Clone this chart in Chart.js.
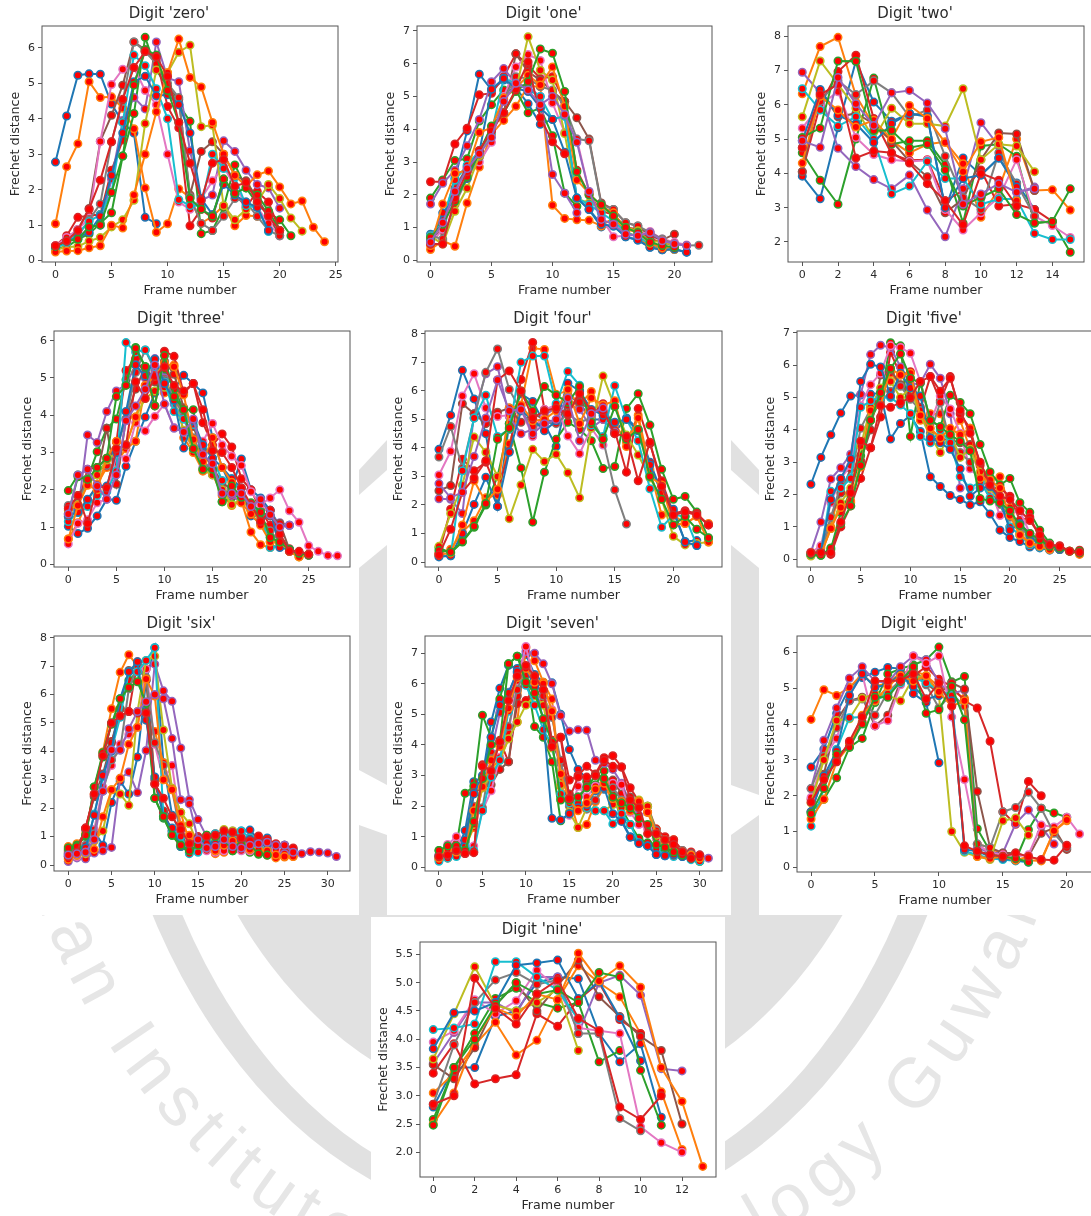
<!DOCTYPE html>
<html>
<head>
<meta charset="utf-8">
<title>Frechet distance per digit</title>
<script src="https://cdn.jsdelivr.net/npm/chart.js@4"></script>
<style>
  html, body { margin: 0; padding: 0; background: #fff; overflow: hidden; }
  #page { position: relative; width: 1091px; height: 1216px; overflow: hidden; }
  #mark { position: absolute; left: 0; top: 0; }
  canvas { position: absolute; filter: blur(0.4px); }
</style>
</head>
<body>
<div id="page">
  <svg id="mark" width="1091" height="1216" viewBox="0 0 1091 1216">
    <defs>
      <path id="markPath" d="M -15 610 A 555 690 0 0 0 1095 610" />
    </defs>
    <ellipse cx="540" cy="610" rx="446" ry="616" fill="#e1e1e1" />
    <ellipse cx="540" cy="610" rx="417" ry="593" fill="#fff" />
    <ellipse cx="540" cy="610" rx="381" ry="502" fill="#e1e1e1" />
    <text font-family="Liberation Sans" font-size="70" fill="#e6e6e6" letter-spacing="10" text-anchor="middle">
      <textPath href="#markPath" startOffset="50%">Indian Institute of Technology Guwahati</textPath>
    </text>
    <rect x="0" y="0" width="1091" height="915" fill="#fff" />
    <rect x="371" y="917" width="354" height="299" fill="#fff" />
    <g fill="#e1e1e1">
      <polygon points="359,470 387,440 387,470 359,495" />
      <polygon points="359,568 387,545 387,785 359,770" />
      <polygon points="359,825 387,835 387,915 359,915" />
      <polygon points="731,440 759,470 759,495 731,470" />
      <polygon points="731,545 759,568 759,795 731,785" />
      <polygon points="731,835 759,815 759,915 731,915" />
    </g>
  </svg>
</div>
<script>
"use strict";

const LINE_COLORS = ["#1f77b4", "#ff7f0e", "#2ca02c", "#d62728", "#9467bd", "#8c564b", "#e377c2", "#7f7f7f", "#bcbd22", "#17becf"];

const zeroSeries = [
  [2.78,4.08,5.23,5.27,5.26,4.42,3.9,3.6,1.22,1.04],
  [1.04,2.65,3.3,5.05,4.6,4.62,4.3,3.72,2.05,0.8,1.04,2.02,1.78,1.05,1.25,1.55,0.98,1.27,1.25],
  [0.35,0.38,0.6,0.75,1.05,1.35,2.95,4.15,6.3,5.38,4.9,4.4,3.93,0.76,0.85,1.5,2.7,2.05,1.6,1.35,1.15,0.7],
  [0.42,0.7,1.22,1.27,1.3,2.55,3.4,5.0,5.9,5.7,4.35,3.75,0.98,1.45,1.2,2.3,1.9,1.5,1.95,1.65,0.85],
  [0.38,0.6,0.62,0.95,1.0,2.3,3.95,4.6,4.28,6.17,5.15,5.05,3.1,1.7,1.85,3.38,3.08,2.55,2.15,2.05,1.48],
  [0.4,0.55,0.88,1.47,3.37,4.1,4.95,6.17,5.95,5.6,4.9,4.55,1.85,3.08,3.35,3.0,2.4,2.25,1.75,1.25,0.7],
  [0.42,0.65,0.88,1.2,3.36,4.97,5.4,5.45,4.8,4.4,3.0,1.65,1.45,1.75,2.25,2.65,2.1,1.6,1.5,1.05,0.7],
  [0.38,0.5,0.7,1.15,1.6,3.35,4.5,6.17,5.9,5.55,5.0,4.6,1.8,1.05,0.85,1.25,1.75,1.65,1.25,0.85,0.7],
  [0.3,0.38,0.4,0.55,0.65,0.95,1.15,1.7,3.87,5.38,5.3,5.88,6.08,3.78,3.82,1.55,1.15,1.45,1.65,2.15,1.75,1.2,0.83],
  [0.35,0.5,0.75,1.1,1.3,1.92,3.9,5.8,5.5,4.85,4.0,1.72,1.55,1.55,3.0,2.6,2.35,1.55,1.5,0.82],
  [0.4,0.55,0.65,0.8,1.25,2.4,3.6,5.05,5.2,4.65,4.68,4.4,3.6,1.75,1.3,2.15,1.85,1.65,1.5,0.85],
  [0.24,0.27,0.28,0.36,0.42,1.0,0.92,1.85,3.0,4.2,5.3,6.25,5.17,4.9,3.9,3.0,2.4,2.1,2.42,2.53,2.08,1.6,1.68,0.94,0.53],
  [0.4,0.55,0.6,0.95,1.0,1.92,2.95,4.95,5.95,5.8,4.8,3.9,1.75,1.45,1.25,2.3,1.9,2.05,1.85,1.4,0.85],
  [0.42,0.55,0.85,1.45,2.27,3.35,4.55,5.45,5.9,5.75,5.2,3.9,2.75,1.7,2.75,2.85,2.1,2.2,1.65,1.25,0.85]
];

const oneSeries = [
  [0.8,1.1,2.5,3.95,5.68,5.2,5.5,5.25,4.78,4.15,4.3,4.4,1.9,1.55,1.02,1.05,0.72,0.62,0.4,0.32,0.33,0.25],
  [0.33,0.6,0.43,1.75,2.85,3.85,4.27,4.7,5.32,5.3,1.68,1.28,1.24,1.22,1.05,1.3,0.88,0.7,0.42,0.33,0.33],
  [1.9,2.45,3.05,3.1,4.25,4.75,5.2,5.2,4.5,4.65,3.8,2.05,1.65],
  [2.4,2.4,3.55,4.03,5.05,5.1,5.6,6.3,5.95,5.55,5.6,4.85,2.75,2.0,1.5,1.4,1.0,0.95,0.65,0.55,0.45],
  [1.72,2.35,2.75,3.5,4.3,5.45,5.85,5.4,5.3,5.0,2.62,2.05,1.45],
  [0.7,0.9,2.2,2.85,3.3,4.05,4.5,6.3,5.75,5.5,5.15,4.85,4.35,3.7,1.75,1.55,1.15,1.05,0.75,0.62,0.8],
  [0.5,0.95,2.0,2.7,3.0,3.6,5.0,5.9,6.28,6.1,4.8,3.9,3.7,2.1,1.3,0.72,0.75,0.78,0.88,0.65,0.55,0.47],
  [0.75,0.65,1.7,2.5,3.15,4.05,4.9,5.6,5.55,5.3,5.2,4.7,3.7,3.65,1.7,1.55,1.15,1.05,0.85,0.65,0.5,0.45,0.46],
  [0.73,0.5,1.5,2.2,3.2,4.0,4.5,5.2,6.82,5.8,5.5,3.87,1.88,1.75,1.6,1.4,1.0,0.9,0.55,0.6,0.42],
  [0.75,1.25,2.45,2.9,3.35,3.9,5.55,5.4,5.2,5.0,4.3,4.4,1.9,1.7,1.45,1.2,0.85,0.72,0.5,0.38,0.35],
  [0.6,1.45,1.85,2.5,3.3,5.22,5.55,5.25,5.15,4.65,4.3,3.3,1.9,1.55,1.1,1.05,0.72,0.62,0.4,0.32,0.35,0.25],
  [0.45,1.72,2.65,2.75,3.9,4.05,4.95,5.25,5.65,5.35,5.9,4.7,2.45,2.05,1.65,1.45,0.95,0.85,0.52,0.38,0.42],
  [0.7,1.1,1.8,2.55,3.3,4.1,4.5,5.15,5.45,6.45,6.32,5.15,2.7,2.0,1.7,1.35,1.0,0.85,0.55,0.45,0.4],
  [0.5,0.5,1.9,2.7,3.35,3.95,4.5,5.22,6.05,4.35,3.62,3.25],
  [0.55,1.15,2.1,2.8,3.25,3.75,4.85,5.4,5.2,4.75,5.0,4.45,3.6,2.1,1.25,1.1,0.8,0.75,0.85,0.6,0.5,0.45]
];

const twoSeries = [
  [3.92,3.26,5.33,7.28,6.08,5.52,5.75,5.68,2.95,4.45,3.95,4.45,3.72,2.95],
  [6.32,7.7,7.97,6.27,5.4,4.95,4.6,4.85,4.92,4.28,2.72,3.55,5.0,3.5,3.52,2.93],
  [4.6,3.8,3.1,5.0,6.78,4.85,4.95,4.95,4.25,2.55,4.8,4.85,4.5,2.55,2.6,1.7],
  [4.05,6.0,6.97,7.45,5.6,4.57,4.38,4.4,3.2,3.5,4.1,3.05,3.1,2.95,2.6],
  [6.95,6.35,4.73,4.2,3.82,3.55,3.95,2.93,2.15,3.55,5.48,4.8,3.45,3.6],
  [4.05,6.42,5.65,5.75,5.45,4.95,4.35,3.9,2.85,3.25,4.4,5.18,5.15,3.5],
  [5.32,6.0,6.38,5.05,4.55,4.4,4.35,4.38,2.95,2.35,2.85,3.3,4.4,2.75,2.48,2.13],
  [4.75,6.1,6.7,6.3,6.7,6.35,5.65,5.85,4.5,3.3,2.95,4.6,3.7,2.75],
  [5.65,7.28,6.6,5.9,5.0,5.9,5.45,5.45,5.38,6.47,4.4,4.85,4.8,4.05],
  [6.47,5.85,5.38,5.65,5.0,3.4,3.63,4.35,3.85,3.85,3.1,3.25,3.25,2.25,2.07,2.07],
  [4.95,6.45,5.7,5.45,4.9,5.45,5.75,5.65,3.0,3.85,3.95,4.45,3.6],
  [4.3,6.25,5.85,5.35,5.55,5.0,5.98,5.6,4.9,4.05,4.92,5.05,3.2],
  [5.05,5.32,7.28,7.27,5.25,5.25,4.75,4.85,4.1,3.05,3.3,3.55,2.8,2.55,2.6,3.55],
  [4.75,6.3,6.6,4.45,4.65,4.6,4.3,3.7,3.2,2.5,4.0,3.8,3.05],
  [4.95,4.76,6.8,6.03,5.4,6.35,6.42,6.05,5.3,3.1,3.4,3.7,3.45,3.55]
];

const threeSeries = [
  [1.02,0.83,0.97,1.3,1.75,1.72,2.63,3.3,3.95,4.6,5.2,4.7,5.07,4.85,4.6,3.4,2.6,2.05,2.83,2.0,1.78,1.45,1.02,1.05],
  [0.68,1.12,1.7,2.15,2.6,2.73,3.1,3.3,4.8,5.1,4.6,5.35,3.4,3.0,2.5,2.43,1.85,1.58,1.7,0.87,0.53,0.45,0.55,0.35,0.22,0.25],
  [1.98,2.4,2.3,3.02,3.65,3.9,4.95,5.82,5.3,4.9,5.25,4.7,4.15,4.15,2.55,2.7,1.68,1.8,1.85,1.6,1.4,0.72,0.6,0.4,0.3,0.27],
  [1.35,1.6,2.55,2.6,2.85,3.28,5.2,5.52,5.1,4.25,5.72,5.58,4.6,4.85,3.8,3.2,3.5,3.15,2.3,2.0,1.45,1.05,0.8,0.42,0.3,0.25],
  [1.55,1.4,3.47,3.27,4.1,4.65,4.82,5.35,5.0,5.52,5.0,4.3,3.9,3.3,2.6,2.4,2.05,1.85,1.65,1.55,1.3,1.3,1.12,1.05],
  [1.28,1.85,2.2,2.4,3.65,2.15,3.9,4.7,5.3,4.9,5.45,5.1,4.2,3.7,3.0,2.6,2.2,2.0,1.8,1.45,1.4,1.3,1.1,0.4,0.3,0.25],
  [0.55,1.1,1.2,1.65,1.75,2.97,2.83,3.8,3.58,3.97,4.3,3.67,3.55,3.1,3.3,3.78,3.2,2.9,2.65,1.95,1.6,1.78,2.0,1.44,1.13,0.5,0.35,0.24,0.23],
  [1.58,1.6,2.3,2.5,2.65,3.1,3.9,5.15,5.75,5.2,4.95,4.5,3.95,3.4,2.8,2.5,1.95,1.95,1.85,1.5,1.25,0.9,0.6,0.35,0.28,0.25],
  [1.45,1.6,2.15,2.4,2.8,3.0,3.2,3.95,4.45,4.65,4.75,4.4,3.6,3.1,2.55,2.4,2.0,1.6,1.75,1.45,1.15,0.6,0.6,0.35,0.2,0.25],
  [1.15,1.4,1.55,1.85,1.95,2.5,5.95,5.7,5.75,5.3,4.9,4.1,3.9,3.75,3.2,2.85,2.25,2.3,1.9,1.6,1.4,0.45,0.5],
  [1.3,1.4,1.75,2.1,2.1,3.0,4.1,5.35,5.05,5.5,4.85,4.4,3.12,3.85,3.2,2.85,2.6,2.3,2.05,1.3,1.1,1.45,0.45,0.4,0.28,0.25],
  [0.68,1.58,2.12,2.0,2.85,3.3,3.2,3.95,4.8,5.05,5.4,5.3,4.55,3.35,2.75,3.4,2.6,2.2,1.65,1.35,1.05,0.6,0.6,0.35,0.2,0.27],
  [1.35,2.35,2.28,2.6,2.85,4.5,4.8,5.8,5.3,4.25,5.6,4.5,4.15,3.1,2.55,2.55,1.68,2.1,1.8,1.65,1.4,0.72,0.6,0.4,0.3,0.25],
  [1.5,1.85,1.1,2.1,2.05,3.1,3.2,4.9,4.45,5.05,5.3,4.8,4.65,4.85,4.15,3.05,3.0,2.6,2.05,1.6,1.15,1.45,0.8,0.35,0.35,0.27],
  [1.35,2.4,2.55,2.1,1.75,2.4,3.85,4.25,4.7,5.35,4.3,3.65,3.55,3.9,2.95,2.7,1.9,1.9,1.9,1.55,1.75,1.33,1.0,1.05]
];

const fourSeries = [
  [3.95,5.15,6.72,5.72,4.5,1.95,4.85,5.9,5.63,4.85,4.05,5.85,5.58,5.0,5.0,4.55,5.05,4.65,3.5,2.45,1.75,0.72,0.75],
  [0.3,0.45,1.05,1.45,2.25,2.35,4.15,5.5,7.5,7.45,5.88,6.0,5.5,5.98,5.0,4.85,4.2,5.15,3.25,1.65,1.65,1.35,1.6,1.35],
  [0.5,0.32,0.7,1.22,2.0,3.0,4.85,3.3,1.4,3.15,4.3,4.9,4.65,4.25,3.28,3.35,5.38,5.9,4.8,3.25,2.2,2.3,1.75,0.83],
  [0.3,1.85,3.6,3.2,3.5,2.5,3.88,6.4,7.7,5.35,5.35,5.15,6.0,5.15,5.55,4.6,3.15,5.38,4.15,2.85,1.7,1.8,1.7,1.3],
  [2.22,2.2,1.7,5.2,6.6,6.85,5.1,4.5,4.65,5.15,5.4,5.55,5.35,4.7,5.0,4.55],
  [2.5,2.68,5.55,5.2,4.85,5.25,5.4,4.9,5.2,5.0,4.9,5.5,5.6,5.3,5.3,4.5],
  [3.05,3.88,5.82,6.6,5.4,5.1,5.15,5.35,4.4,5.35,5.5,4.42,3.8,4.7,4.1],
  [3.68,4.75,3.3,5.05,6.65,7.47,6.05,5.3,4.75,4.9,4.85,5.2,4.9,5.05,4.3,2.53,1.33],
  [0.55,1.7,2.7,4.38,3.85,3.0,1.52,2.7,3.95,3.52,3.78,3.13,2.25,4.7,6.52,5.45,4.45,3.75,2.95,2.2,0.9,0.6,0.65,0.7],
  [0.22,0.22,3.2,5.05,5.85,4.4,4.65,7.0,7.22,7.22,5.55,6.68,6.2,4.8,4.4,6.18,5.0,4.25,2.57,1.22,1.65,1.6,0.58],
  [0.18,0.22,1.0,2.02,2.97,1.95,3.85,5.3,5.0,4.6,4.95,6.27,6.0,5.35,5.15,4.9,5.0,4.6,3.4,2.4,1.85,0.7,0.58],
  [0.25,0.32,1.3,2.85,2.1,2.55,5.4,5.5,4.95,5.0,5.3,6.05,4.85,5.75,5.5,5.65,4.05,5.05,3.0,2.7,1.3,1.35,1.6,0.7],
  [0.4,0.35,0.72,1.25,2.05,4.3,4.7,6.0,5.3,6.15,5.85,5.6,6.15,4.9,4.3,5.45,4.3,4.65,3.0,2.2,1.3,1.6,1.15,0.85],
  [0.25,1.15,2.45,2.95,3.55,6.38,6.7,6.0,5.05,5.3,5.4,5.2,5.9,5.3,5.3,4.5,4.4,2.85,4.2,2.65,1.65,1.75,1.65,1.3],
  [2.75,2.25,2.45,3.7,5.05,6.38,5.3,5.35,4.5,4.85,5.0,5.75,4.25,5.2,5.4]
];

const fiveSeries = [
  [2.32,3.15,3.85,4.52,5.05,5.08,5.1,5.15,3.72,4.2,4.45,3.95,2.55,2.25,1.97,1.85,1.68,1.78,1.4,0.9,0.67,0.55,0.38,0.35,0.28],
  [0.12,0.35,1.0,2.3,1.75,3.0,4.75,5.0,5.75,5.4,5.6,4.3,4.5,4.5,3.8,4.3,3.4,2.95,2.45,2.55,1.6,0.8,0.5,0.45,0.38,0.35,0.25,0.15],
  [0.12,0.12,0.3,1.45,2.1,3.2,4.3,4.95,6.7,6.6,3.8,5.5,4.3,4.1,5.07,4.85,4.5,3.55,2.7,2.3,2.5,1.75,1.45,0.9,0.5,0.35,0.25,0.2],
  [0.2,0.2,0.15,1.0,1.65,2.5,3.45,4.4,6.4,5.7,5.8,4.65,5.65,4.9,5.65,4.5,4.05,2.9,2.2,2.2,1.95,1.2,1.3,0.7,0.42,0.42,0.25,0.28],
  [0.22,1.15,2.48,2.83,3.25,5.1,6.33,6.62,6.55,5.95,5.4,5.45,6.03,5.6,4.5,2.2],
  [0.15,0.2,1.3,2.05,2.8,3.05,4.0,5.7,5.85,5.4,5.1,4.7,3.75,3.7,3.7,3.6,3.55,2.6,2.1,1.7,1.0,1.1,0.8,0.45,0.4,0.3],
  [0.2,0.42,1.75,2.5,2.9,4.75,5.4,5.75,6.6,6.55,6.37,5.5,4.2,5.05,4.65,3.9,2.8,2.5,2.2,1.35,1.4,1.5,0.8,0.4,0.45,0.3],
  [0.15,0.15,1.3,2.3,2.5,4.05,4.65,4.85,5.2,5.35,4.95,4.6,3.9,4.85,3.6,3.3,3.0,2.3,2.4,1.75,1.3,1.0,0.7,0.55,0.35,0.3],
  [0.1,0.15,0.95,1.75,2.2,3.5,4.7,5.3,5.5,5.0,5.3,4.45,3.8,3.3,3.9,3.15,3.4,2.7,2.2,1.8,1.4,0.75,0.5,0.4,0.3,0.3,0.25],
  [0.15,0.2,2.1,2.2,2.5,4.7,4.9,5.0,5.0,4.77,4.5,3.8,3.6,4.0,3.6,2.55,2.2,2.4,1.9,1.75,1.0,0.75,0.45,0.38,0.3],
  [0.18,0.2,1.85,2.5,3.1,5.5,6.03,5.95,5.05,5.75,5.3,5.05,3.75,3.6,3.4,2.8,1.95,2.2,2.25,1.85,0.9,1.1,0.75,0.4,0.3,0.3],
  [0.2,0.15,0.95,1.6,1.8,2.85,4.6,4.75,5.9,5.7,5.75,4.45,4.05,3.75,4.05,3.85,4.05,2.5,2.45,2.2,1.35,0.75,0.5,0.4,0.3],
  [0.15,0.12,0.35,1.1,1.65,2.9,4.3,5.15,5.9,6.35,5.6,5.45,4.3,4.1,3.85,3.65,3.35,1.88,1.8,1.75,1.5,1.05,0.8,0.6,0.4,0.35,0.25,0.25],
  [0.2,0.2,0.2,1.15,2.05,3.65,3.45,4.75,4.7,4.85,5.0,5.5,5.65,5.2,5.6,4.6,3.9,3.0,2.3,1.95,1.85,1.5,1.2,0.75,0.45,0.4,0.25,0.22]
];

const sixSeries = [
  [0.4,0.4,0.6,1.2,0.7,2.2,2.95,2.5,3.8,6.5,7.65,3.6,1.75,1.1,0.6,0.5,0.7,0.7,0.85,0.9,1.2,1.23,0.9,0.95,0.6,0.7,0.55],
  [0.65,0.75,1.1,2.5,3.98,5.5,6.78,7.4,7.0,5.1,4.7,3.6,2.7,1.85,0.8,0.65,0.55,0.4,0.45,0.6,0.7,0.75,0.65,0.35,0.25,0.28,0.3],
  [0.55,0.7,1.0,2.75,3.8,5.0,5.5,6.5,6.8,5.4,2.35,1.65,1.05,0.65,0.45,0.65,1.05,0.85,0.6,0.5,0.55,0.45,0.38,0.38],
  [0.45,0.55,1.3,2.45,3.9,4.35,5.22,5.4,7.15,6.9,2.85,1.85,1.2,0.7,0.55,1.0,1.0,1.1,1.0,1.1,0.9,0.95,0.8,0.6,0.55,0.5],
  [0.12,0.25,0.22,0.42,0.5,0.62,3.05,3.27,2.55,4.03,7.07,6.13,5.76,4.12,2.3,1.6,1.0,0.85,0.9,0.8,0.7,0.65,0.6,0.5,0.4,0.4,0.38,0.4,0.47,0.45,0.42,0.3],
  [0.5,0.6,1.25,2.4,3.2,4.3,5.5,6.85,7.0,6.5,3.0,1.9,1.1,0.8,0.65,0.7,0.65,0.9,0.75,0.7,0.6,0.5,0.45,0.35],
  [0.3,0.3,0.45,1.25,2.75,3.5,4.25,4.6,4.85,6.9,4.25,3.0,3.5,1.4,0.7,0.5,0.5,0.45,0.5,0.55,0.5,0.5,0.6,0.65,0.55],
  [0.4,0.5,0.7,1.1,2.6,3.7,4.05,6.2,7.0,6.6,4.3,3.5,2.65,1.05,0.45,0.55,0.6,0.65,0.7,1.2,0.95,0.6,0.5,0.55],
  [0.25,0.35,0.4,0.85,1.2,2.65,2.5,2.1,5.4,7.2,7.35,4.75,2.7,1.85,1.45,0.7,0.85,0.95,1.25,1.2,0.85,0.7,0.5,0.5],
  [0.3,0.45,0.5,1.8,3.1,4.05,5.2,6.8,6.8,7.2,7.65,1.7,1.2,1.0,0.4,0.45,0.85,1.1,1.05,1.1,1.2,0.95,0.7,0.5],
  [0.35,0.42,0.6,1.75,3.15,4.0,5.85,6.8,7.15,5.1,3.1,1.7,1.3,0.65,0.55,0.95,0.75,0.75,0.85,0.65,0.85,0.9,0.75,0.75,0.7,0.7,0.55],
  [0.2,0.35,0.45,0.55,1.7,2.65,3.05,4.25,4.85,6.55,5.95,3.0,2.65,1.4,1.05,0.7,0.6,0.5,0.7,0.85,0.7,0.55,0.55,0.5,0.35,0.3,0.3],
  [0.6,0.65,1.05,2.75,3.95,4.95,5.85,6.25,6.45,5.7,2.35,1.7,1.05,0.7,0.5,0.7,1.05,1.0,0.9,0.5,0.7,0.7,0.4,0.35],
  [0.3,0.45,1.3,2.5,3.85,5.0,5.25,5.4,5.35,5.35,2.85,2.35,1.7,1.25,0.75,0.95,1.0,1.05,1.2,1.15,0.95,0.85,1.02,0.9,0.75,0.7,0.6],
  [0.35,0.4,0.45,0.9,2.6,4.05,4.05,4.8,5.4,5.75,6.0,5.85,4.45,2.3,2.15,0.9,0.6,0.65,0.9,0.65,0.6,0.7,0.75,0.8,0.7,0.7,0.45]
];

const sevenSeries = [
  [0.4,0.45,0.5,1.2,2.8,2.95,4.75,5.85,6.6,6.5,6.95,6.3,6.05,6.03,5.0,3.85,3.2,2.9,2.6,2.55,2.4,1.55,1.0,0.8,0.7,0.42,0.38,0.42,0.35],
  [0.25,0.3,0.4,0.65,1.3,2.63,3.2,3.55,4.2,4.75,7.18,6.75,6.05,5.5,2.65,2.25,1.3,1.4,2.15,2.6,2.25,1.95,1.9,2.15,2.0,1.25,0.85,0.9,0.5,0.4,0.2],
  [0.55,0.65,0.7,2.42,2.65,4.97,4.25,5.5,6.65,6.9,6.4,4.6,4.25,3.45,1.52,1.75,2.1,2.8,2.7,3.15,2.1,1.95,1.4,0.95,0.8,0.6,0.5,0.4,0.38,0.35,0.2],
  [0.35,0.4,0.75,0.45,0.5,3.35,3.15,4.15,3.45,5.35,5.45,5.85,5.8,4.15,4.25,2.85,3.0,3.3,3.05,3.58,3.65,3.28,2.6,2.15,1.8,1.25,1.0,0.9,0.55,0.5,0.4],
  [0.3,0.65,0.55,0.5,2.4,2.9,3.75,5.05,5.72,6.35,7.05,7.0,6.65,6.0,4.95,4.45,4.5,4.48,3.5,3.4,3.2,2.75,2.1,1.7,1.35,0.95,0.75,0.6,0.5,0.45,0.4,0.3],
  [0.4,0.55,0.7,0.85,2.45,2.6,2.7,3.2,3.45,5.6,6.3,5.65,5.7,4.1,3.4,2.4,2.3,2.65,2.6,2.85,2.85,2.4,2.3,2.0,2.0,1.1,0.8,0.7,0.5,0.45],
  [0.35,0.75,1.0,0.55,0.7,1.85,2.5,3.6,4.4,6.1,7.22,6.0,5.45,5.15,2.8,1.7,2.65,2.3,2.65,2.85,2.75,2.7,1.8,1.4,1.25,0.95,0.9,0.6,0.45,0.4],
  [0.35,0.5,0.65,0.8,2.0,1.95,3.55,4.0,4.6,5.8,6.55,6.1,5.6,4.9,3.5,2.0,1.9,1.9,2.2,2.7,2.6,2.2,2.1,2.15,2.0,1.2,0.9,0.6,0.55,0.4],
  [0.3,0.4,0.5,0.6,1.4,2.6,3.0,3.5,4.2,4.75,5.3,5.6,5.3,3.9,2.7,1.8,1.3,1.95,1.85,1.85,2.05,1.95,1.9,2.2,2.0,1.05,0.85,0.5,0.4,0.3],
  [0.2,0.3,0.35,0.7,0.55,1.85,2.95,3.5,5.1,6.25,5.95,5.3,4.5,4.0,2.4,2.1,2.1,1.95,1.85,1.85,1.42,1.75,1.4,0.8,0.7,0.6,0.4,0.35,0.4,0.25,0.2],
  [0.35,0.4,0.55,0.9,2.4,3.0,4.25,5.3,5.7,6.4,6.5,5.9,4.85,1.6,1.55,1.75,1.95,2.05,2.5,2.6,1.75,1.5,0.98,0.78,0.7,0.42,0.38,0.42,0.35,0.3],
  [0.3,0.6,0.5,0.5,1.85,2.63,3.5,3.95,5.2,6.2,6.5,6.05,6.0,5.1,3.05,2.2,1.85,2.1,2.55,2.75,2.25,2.15,1.85,2.15,1.8,1.1,0.9,0.7,0.5,0.4,0.3],
  [0.55,0.7,0.7,0.55,1.5,2.9,4.0,4.1,6.65,6.9,6.05,5.7,4.85,4.1,2.2,2.2,2.3,2.6,3.0,2.9,2.3,2.1,1.95,1.6,1.4,0.75,0.65,0.5,0.4,0.3],
  [0.35,0.4,0.55,0.45,0.48,3.3,3.15,4.1,5.45,6.25,6.6,6.25,5.8,3.95,4.25,2.25,2.95,2.95,3.0,3.5,3.3,3.28,2.2,1.95,1.1,1.1,0.9,0.75,0.5,0.3,0.4]
];

const eightSeries = [
  [2.8,3.3,4.3,5.02,5.3,5.45,5.58,5.55,4.85,4.6,2.92],
  [4.13,4.96,4.8,5.02,5.4,5.05,5.15,5.42,5.5,5.35,5.05,4.95,4.72,0.65,0.55,0.35,0.2,0.2,0.18,1.0,1.3],
  [1.55,1.9,2.5,3.35,3.6,4.6,5.4,5.55,5.65,5.8,6.15,5.18,5.33,1.08,0.45,0.3,0.2,1.05,1.65,1.52,1.4],
  [1.9,2.5,3.05,3.45,4.05,4.7,4.85,5.25,5.35,5.6,5.25,5.05,4.65,4.45,3.52,1.55,1.2,2.4,2.0],
  [2.2,3.55,4.45,5.28,5.6,5.2,5.15,5.6,5.9,5.8,5.15,4.85,4.95,0.55,0.4,0.4,1.22,1.6,1.15,0.65],
  [1.55,2.6,4.1,4.65,4.75,3.95,4.25,5.2,5.55,5.15,4.85,5.15,4.98,2.12,0.55,0.4,0.4,0.3,0.95,1.1,0.5],
  [1.95,3.05,3.6,4.8,5.4,3.95,4.1,5.1,5.9,5.7,5.9,4.2,2.45,0.65,0.4,0.35,0.3,0.35,1.18,1.13,1.4,0.93],
  [2.2,3.1,3.9,4.65,4.7,4.25,4.9,5.2,5.45,5.1,4.45,4.85,4.5,0.65,0.55,1.55,1.67,2.1,1.65,0.95,0.55],
  [1.8,3.0,4.1,4.15,4.72,4.85,4.8,4.65,5.3,5.35,4.8,1.0,0.42,0.3,0.22,1.3,1.38,0.9],
  [1.15,2.2,3.3,4.18,4.2,4.65,4.85,5.15,5.3,5.15,4.95,4.8,0.45,0.35,0.25,0.22,0.18,0.15],
  [1.55,2.55,3.25,4.8,5.4,5.03,5.1,5.4,5.05,4.7,4.8,4.65,0.5,0.45,0.3,0.25,0.2,0.15],
  [1.35,1.9,2.95,3.4,4.25,4.65,5.05,5.35,5.2,5.35,4.9,4.5,4.65,0.3,0.25,0.3,0.2,0.3,0.2,1.02,1.32],
  [1.5,2.2,3.15,3.35,4.0,4.75,4.75,5.2,5.6,4.3,4.4,5.05,4.12,0.45,0.35,0.3,0.25,0.15],
  [1.82,2.45,2.95,3.52,4.2,5.2,5.2,5.22,5.4,4.7,5.15,4.5,0.6,0.45,0.35,0.3,0.4,0.3,0.22,0.2,0.62]
];

const nineSeries = [
  [2.8,3.5,3.5,4.4,4.5,5.0,5.1,5.07,4.1,3.6,3.92,2.62],
  [3.05,3.4,3.9,4.3,3.72,3.98,4.7,5.3,5.0,4.75,4.1,3.07,2.05],
  [2.58,3.5,4.1,4.72,4.9,4.65,4.55,4.65,3.6,3.8],
  [3.4,3.92,3.21,3.3,3.37,4.45,4.23,4.7,5.0,4.35,4.1],
  [3.57,4.12,4.65,4.65,4.45,5.1,5.1,4.1,5.0,5.13,4.78,3.48,3.44],
  [3.55,3.3,3.85,4.6,5.0,4.5,4.95,5.4,4.75,4.4,4.05,3.8,2.5],
  [3.95,4.15,4.7,4.45,4.68,5.22,4.9,4.2,4.15,4.1,2.45,2.17,2.0],
  [2.85,3.9,4.65,5.05,5.18,4.97,5.05,4.1,4.1,2.6,2.38],
  [3.65,4.45,5.28,4.6,4.5,4.65,4.88,3.8],
  [4.17,4.2,4.27,5.37,5.37,5.1,4.87,4.35],
  [3.83,4.47,4.5,4.65,5.31,5.35,5.4,4.72,5.02,4.38,3.62],
  [2.5,3.05,4.0,4.55,4.4,4.8,4.7,5.52,5.03,5.3,4.92,3.5,2.9,1.75],
  [2.48,3.5,4.0,4.6,5.0,4.8,4.87,4.65,5.18,5.1,3.45,2.48],
  [2.85,3.0,5.08,4.55,4.27,4.8,5.05,4.37,4.15,2.8,2.58,3.0]
];

const fiveStepTicks = [0, 5, 10, 15, 20, 25];
const thirtyTicks = [0, 5, 10, 15, 20, 25, 30];
const twentyTicks = [0, 5, 10, 15, 20];
const evenTicks14 = [0, 2, 4, 6, 8, 10, 12, 14];
const evenTicks12 = [0, 2, 4, 6, 8, 10, 12];
const yTicks6 = [0, 1, 2, 3, 4, 5, 6];
const yTicks7 = [0, 1, 2, 3, 4, 5, 6, 7];
const yTicks8 = [0, 1, 2, 3, 4, 5, 6, 7, 8];
const yTicksTwo = [2, 3, 4, 5, 6, 7, 8];
const yTicksNine = [2, 2.5, 3, 3.5, 4, 4.5, 5, 5.5];

const panels = [
  { title: "Digit 'zero'", series: zeroSeries, xTicks: fiveStepTicks, yTicks: yTicks6, xRange: [-1.2, 25.2], yRange: [-0.04, 6.62], box: [42, 26, 338, 262] },
  { title: "Digit 'one'", series: oneSeries, xTicks: twentyTicks, yTicks: yTicks7, xRange: [-1.11, 23.08], yRange: [-0.05, 7.15], box: [417, 26, 712, 262] },
  { title: "Digit 'two'", series: twoSeries, xTicks: evenTicks14, yTicks: yTicksTwo, xRange: [-0.8, 15.77], yRange: [1.415, 8.3], box: [788, 26, 1084, 262] },
  { title: "Digit 'three'", series: threeSeries, xTicks: fiveStepTicks, yTicks: yTicks6, xRange: [-1.49, 29.3], yRange: [-0.07, 6.26], box: [54, 331, 350, 567] },
  { title: "Digit 'four'", series: fourSeries, xTicks: twentyTicks, yTicks: yTicks8, xRange: [-1.19, 24.15], yRange: [-0.175, 8.1], box: [425, 331, 722, 567] },
  { title: "Digit 'five'", series: fiveSeries, xTicks: fiveStepTicks, yTicks: yTicks7, xRange: [-1.4, 28.35], yRange: [-0.24, 7.06], box: [797, 331, 1093, 567] },
  { title: "Digit 'six'", series: sixSeries, xTicks: thirtyTicks, yTicks: yTicks8, xRange: [-1.65, 32.57], yRange: [-0.21, 8.06], box: [54, 636, 350, 871] },
  { title: "Digit 'seven'", series: sevenSeries, xTicks: thirtyTicks, yTicks: yTicks7, xRange: [-1.61, 32.56], yRange: [-0.12, 7.56], box: [425, 636, 722, 871] },
  { title: "Digit 'eight'", series: eightSeries, xTicks: twentyTicks, yTicks: yTicks6, xRange: [-1.1, 22.05], yRange: [-0.13, 6.46], box: [797, 636, 1093, 872] },
  { title: "Digit 'nine'", series: nineSeries, xTicks: evenTicks12, yTicks: yTicksNine, xRange: [-0.64, 13.64], yRange: [1.563, 5.72], box: [420, 942, 716, 1177], yDigits: 1 }
];

const FONT = "'DejaVu Sans'";
const TEXT_COLOR = "#2b2b2b";
const SPINE_COLOR = "#555555";
const BOTTOM_GUTTER = 40;
const TOP_GUTTER = 26;

// top and right spines, chart.js only gives the two axis borders
const framePlugin = {
  id: "frame",
  afterDraw(chart) {
    const { ctx, chartArea: a } = chart;
    ctx.save();
    ctx.strokeStyle = SPINE_COLOR;
    ctx.lineWidth = 1;
    ctx.strokeRect(a.left, a.top, a.right - a.left, a.bottom - a.top);
    ctx.restore();
  },
};

function makeAxis(range, ticks, label, digits) {
  return {
    type: "linear",
    bounds: "data",
    min: range[0],
    max: range[1],
    afterBuildTicks: (scale) => {
      scale.ticks = ticks.map((value) => ({ value }));
    },
    grid: { drawOnChartArea: false, drawTicks: true, tickLength: 4, tickColor: SPINE_COLOR },
    border: { display: false },
    ticks: {
      autoSkip: false,
      maxRotation: 0,
      padding: 3,
      color: TEXT_COLOR,
      font: { family: FONT, size: 11 },
      callback: (value) => (digits ? value.toFixed(digits) : String(value)),
    },
    title: {
      display: true,
      text: label,
      color: TEXT_COLOR,
      font: { family: FONT, size: 12.7, lineHeight: 1.2 },
      padding: { top: 8, bottom: 4 },
    },
  };
}

function drawPanel(panel) {
  const [left, top, right, bottom] = panel.box;
  // same gutter both sides so the title sits over the middle of the plot
  const gutter = panel.yDigits ? 52 : 42;
  const canvas = document.createElement("canvas");
  const width = gutter + (right - left) + gutter;
  const height = TOP_GUTTER + (bottom - top) + BOTTOM_GUTTER;
  canvas.width = width;
  canvas.height = height;
  canvas.style.left = left - gutter + "px";
  canvas.style.top = top - TOP_GUTTER + "px";
  canvas.style.width = width + "px";
  canvas.style.height = height + "px";
  document.getElementById("page").appendChild(canvas);

  const count = panel.series.length;
  const datasets = panel.series.map((values, i) => {
    const color = LINE_COLORS[i % LINE_COLORS.length];
    return {
      data: values.map((y, x) => ({ x, y })),
      borderColor: color,
      borderWidth: 2,
      pointRadius: 3.75,
      pointBorderWidth: 1.5,
      pointBackgroundColor: "#ff0000",
      pointBorderColor: color,
      order: count - i,
      tension: 0,
      fill: false,
    };
  });

  const xAxis = makeAxis(panel.xRange, panel.xTicks, "Frame number", 0);
  xAxis.afterFit = (scale) => {
    scale.height = BOTTOM_GUTTER;
  };
  const yAxis = makeAxis(panel.yRange, panel.yTicks, "Frechet distance", panel.yDigits || 0);
  yAxis.afterFit = (scale) => {
    scale.width = gutter;
  };

  new Chart(canvas, {
    type: "line",
    data: { datasets },
    options: {
      responsive: false,
      animation: false,
      devicePixelRatio: 1,
      layout: { autoPadding: false, padding: { left: 0, top: 0, right: gutter, bottom: 0 } },
      plugins: {
        legend: { display: false },
        tooltip: { enabled: false },
        title: {
          display: true,
          text: panel.title,
          color: TEXT_COLOR,
          font: { family: FONT, size: 15, weight: "normal", lineHeight: 1 },
          padding: { top: 7, bottom: 4 },
        },
      },
      scales: { x: xAxis, y: yAxis },
    },
    plugins: [framePlugin],
  });
}

panels.forEach(drawPanel);
</script>
</body>
</html>
